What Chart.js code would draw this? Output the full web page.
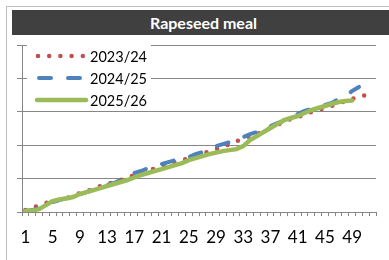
<!DOCTYPE html>
<html>
<head>
<meta charset="utf-8">
<script src="https://cdn.jsdelivr.net/npm/chart.js"></script>
<style>
    html, body { margin: 0; padding: 0; background: #fff; }
    #wrap { position: relative; width: 389px; height: 260px; overflow: hidden; }
    #frame { position: absolute; left: 6px; top: 6px; width: 400px; height: 300px; border: 1px solid #bfbfbf; }
    #title { position: absolute; left: 12px; top: 10px; width: 383px; height: 25px; background: #404040;
             color: #fff; font: bold 16px Lato, sans-serif; text-align: center; line-height: 25px; }
    #chart { position: absolute; left: 0; top: 0; }
</style>
</head>
<body>
<div id="wrap">
    <div id="frame"></div>
    <div id="title">Rapeseed meal</div>
    <canvas id="chart" width="389" height="260"></canvas>
</div>
<script>
// weeks of the marketing year
const weeks = [1, 2, 3, 4, 5, 6, 7, 8, 9, 10, 11, 12, 13, 14, 15, 16, 17, 18, 19, 20, 21, 22, 23, 24, 25, 26,
    27, 28, 29, 30, 31, 32, 33, 34, 35, 36, 37, 38, 39, 40, 41, 42, 43, 44, 45, 46, 47, 48, 49, 50, 51, 52];

// cumulative values (axis 0..100)
const s2023 = [1.2, 2.4, 4.2, 5.4, 6.6, 7.2, 8.4, 9.6, 11.4, 12.6, 13.8, 15.6, 16.8, 18.0, 19.2, 20.4, 22.2,
    23.4, 24.6, 26.3, 27.5, 28.7, 29.9, 31.1, 32.3, 33.5, 34.7, 36.5, 37.7, 38.9, 40.7, 42.5, 43.7, 45.5, 46.7,
    48.5, 50.3, 52.1, 53.9, 55.7, 56.9, 58.1, 59.9, 61.1, 62.3, 63.5, 64.7, 66.5, 67.7, 68.9, 70.1, 71.3];
const s2024 = [0.6, 1.2, 2.4, 4.2, 6.0, 7.2, 8.4, 9.6, 10.8, 12.0, 13.2, 15.0, 16.2, 17.4, 19.2, 21.0, 23.4,
    24.6, 26.3, 27.5, 28.7, 29.9, 31.1, 32.3, 32.9, 34.7, 35.9, 37.7, 39.5, 40.7, 41.9, 43.7, 44.9, 46.7, 47.9,
    49.7, 51.5, 53.3, 54.5, 56.9, 58.7, 60.5, 61.7, 62.9, 64.1, 65.3, 67.7, 69.5, 72.5, 74.9];
const s2025 = [0.6, 0.9, 1.8, 4.2, 6.6, 7.5, 8.1, 9.0, 10.8, 12.0, 13.2, 14.4, 15.6, 16.8, 18.0, 19.2, 20.7,
    22.2, 23.4, 24.6, 25.7, 26.9, 28.1, 29.3, 31.1, 32.3, 33.5, 34.7, 35.6, 36.5, 37.1, 37.7, 39.5, 43.1, 45.5,
    47.9, 50.3, 52.7, 55.1, 56.3, 57.5, 59.3, 61.1, 62.3, 63.5, 64.7, 65.9, 66.5, 66.8];

const seriesNames = ['2023/24', '2024/25', '2025/26'];

// legend drawn inside the plot, top left, on white
let legendBox = {
    id: 'legendBox',
    beforeDatasetsDraw(chart) {
        let ctx = chart.ctx;
        let a = chart.chartArea;
        let spans = [[16, 62], [17, 58], [15, 64]];
        ctx.save();
        ctx.fillStyle = '#fff';
        ctx.fillRect(a.left + 5, a.top - 3, 124, 64);
        chart.data.datasets.forEach((ds, i) => {
            let y = a.top + 11 + i * 22;
            ctx.beginPath();
            ctx.strokeStyle = ds.borderColor;
            ctx.lineWidth = ds.borderWidth;
            ctx.lineCap = ds.borderCapStyle || 'butt';
            ctx.setLineDash(ds.borderDash || []);
            ctx.moveTo(a.left + spans[i][0], y);
            ctx.lineTo(a.left + spans[i][1], y);
            ctx.stroke();
            ctx.setLineDash([]);
            ctx.fillStyle = '#000';
            ctx.font = '14.5px Lato';
            ctx.textBaseline = 'middle';
            ctx.fillText(ds.label, a.left + 68, y + 1);
        });
        ctx.restore();
    }
};

new Chart(document.getElementById('chart'), {
    type: 'line',
    data: {
        labels: weeks,
        datasets: [
            {
                label: seriesNames[0],
                data: s2023,
                borderColor: '#C0504D',
                borderWidth: 4.5,
                borderDash: [0, 11.2],
                borderCapStyle: 'round',
                order: 2
            },
            {
                label: seriesNames[1],
                data: s2024,
                borderColor: '#4F81BD',
                borderWidth: 4,
                borderDash: [12, 17],
                borderCapStyle: 'round',
                order: 1
            },
            {
                label: seriesNames[2],
                data: s2025,
                borderColor: '#9BBB59',
                borderWidth: 4.5,
                borderCapStyle: 'round',
                order: 0
            }]
    },
    options: {
        responsive: false,
        animation: false,
        events: [],
        elements: { point: { radius: 0 }, line: { tension: 0, fill: false } },
        layout: { padding: { left: 17, top: 45, right: 13, bottom: 0.5 } },
        plugins: { legend: { display: false }, tooltip: { enabled: false } },
        scales: {
            x: {
                offset: true,
                grid: { offset: true, drawOnChartArea: false, tickLength: 4, color: '#868686' },
                border: { color: '#868686' },
                ticks: {
                    autoSkip: false,
                    maxRotation: 0,
                    padding: 11.5,
                    color: '#000',
                    font: { family: 'Lato', size: 17 },
                    callback: (v, i) => (i % 4 === 0 ? weeks[i] : '')
                }
            },
            y: {
                min: 0,
                max: 100,
                ticks: { stepSize: 20, display: false },
                grid: { color: '#868686', tickLength: 5 },
                border: { color: '#868686' }
            }
        }
    },
    plugins: [legendBox]
});
</script>
</body>
</html>
